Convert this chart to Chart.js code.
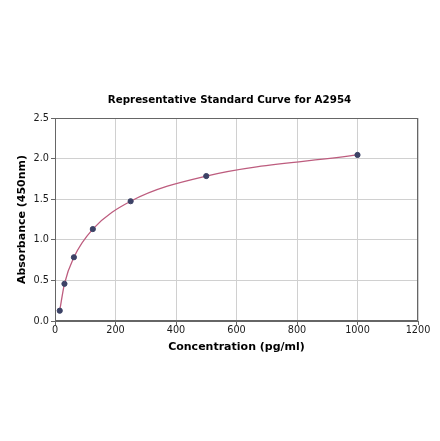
<!DOCTYPE html>
<html lang="en">
<head>
<meta charset="UTF-8">
<title>Representative Standard Curve for A2954</title>
<script src="https://cdn.jsdelivr.net/npm/chart.js"></script>
<style>
  body { margin: 0; background: #fff; }
  #wrap { width: 440px; height: 441px; }
</style>
</head>
<body>
<div id="wrap"><canvas id="curve" width="440" height="441"></canvas></div>
<script>
// standard points
const concentrations = [15.625, 31.25, 62.5, 125, 250, 500, 1000];
const absorbance = [0.127, 0.458, 0.785, 1.132, 1.475, 1.785, 2.045];
const xTicks = [0, 200, 400, 600, 800, 1000, 1200];
const yTicks = [0, 0.5, 1.0, 1.5, 2.0, 2.5];
const chartTitle = 'Representative Standard Curve for A2954';

const points = concentrations.map((c, i) => ({ x: c, y: absorbance[i] }));

const font = 'DejaVu Sans';

// box round the plot area (matplotlib spines) + the title, set a bit left of the axes centre
const frame = {
    id: 'frame',
    afterDraw(chart) {
        const a = chart.chartArea, ctx = chart.ctx;
        ctx.save();
        ctx.strokeStyle = '#666';
        ctx.lineWidth = 1;
        ctx.strokeRect(a.left + 0.5, a.top + 0.5, a.right - a.left - 1, a.bottom - a.top - 1);
        ctx.fillStyle = '#000';
        ctx.font = 'bold 10.3px "' + font + '"';
        ctx.textAlign = 'center';
        ctx.textBaseline = 'middle';
        ctx.fillText(chartTitle, 229.5, a.top - 18);
        ctx.restore();
    }
};

new Chart(document.getElementById('curve'), {
    type: 'scatter',
    data: {
        datasets: [{
            label: 'fit',
            type: 'line',
            data: points,
            borderColor: '#bd5c7e',
            borderWidth: 1.3,
            pointRadius: 0,
            cubicInterpolationMode: 'monotone',
            order: 2
        }, {
            label: 'standards',
            data: points,
            backgroundColor: '#3c4266',
            borderColor: '#3c4266',
            pointRadius: 2.6,
            order: 1
        }]
    },
    options: {
        responsive: false,
        animation: false,
        layout: { padding: { left: 0, right: 22, top: 118, bottom: 80 } },
        plugins: {
            legend: { display: false },
            tooltip: { enabled: false },
            title: { display: false }
        },
        scales: {
            x: {
                type: 'linear',
                min: 0,
                max: 1200,
                afterBuildTicks(s) { s.ticks = xTicks.map(v => ({ value: v })); },
                afterFit(s) { s.height = 40; },
                ticks: {
                    color: '#1a1a1a',
                    font: { family: font, size: 9.7 },
                    padding: 0,
                    callback: v => String(v)
                },
                grid: { color: '#d0d0d0', tickLength: 4, tickColor: '#666' },
                border: { color: '#666' },
                title: {
                    display: true,
                    text: 'Concentration (pg/ml)',
                    color: '#000',
                    font: { family: font, size: 11, weight: 'bold' },
                    padding: { top: 0, bottom: 7.5 }
                }
            },
            y: {
                min: 0,
                max: 2.5,
                afterBuildTicks(s) { s.ticks = yTicks.map(v => ({ value: v })); },
                afterFit(s) { s.width = 55; },
                ticks: {
                    color: '#1a1a1a',
                    font: { family: font, size: 9.7 },
                    padding: 2,
                    callback: v => v.toFixed(1)
                },
                grid: { color: '#d0d0d0', tickLength: 4, tickColor: '#666' },
                border: { color: '#666' },
                title: {
                    display: true,
                    text: 'Absorbance (450nm)',
                    color: '#000',
                    font: { family: font, size: 11, weight: 'bold' },
                    padding: { top: 15.4, bottom: 0 }
                }
            }
        }
    },
    plugins: [frame]
});
</script>
</body>
</html>
